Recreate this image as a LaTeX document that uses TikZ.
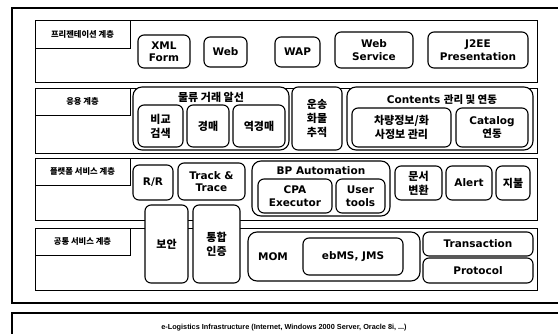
\documentclass[tikz,border=0pt]{standalone}
\usepackage{fontspec}
\setmainfont{DejaVu Sans}
\newfontfamily\kr{Noto Sans CJK KR}
\newfontfamily\lat{Liberation Sans}
\newcommand{\mybox}[8][]{\node[#2,minimum width={(#5-#3)*1pt},minimum height={(#6-#4)*1pt},#1] (#7) at ({(#3+#5)/2},{(#4+#6)/2}) {#8};}
\begin{document}
\begin{tikzpicture}[x=1pt,y=-1pt,
  frame/.style={draw,line width=1.2pt,inner sep=0pt},
  layer/.style={draw,line width=0.9pt,inner sep=0pt},
  lab/.style={draw,line width=0.8pt,inner sep=0pt,font=\kr\bfseries\fontsize{8.3}{10}\selectfont},
  rb/.style={draw,line width=1.1pt,rounded corners=6pt,fill=white,inner sep=0pt,align=center,font=\bfseries\fontsize{10.5}{12.5}\selectfont},
  big/.style={rb,rounded corners=9pt},
  rk/.style={rb,font=\kr\bfseries\fontsize{11}{14}\selectfont},
  ttl/.style={inner sep=0pt,font=\bfseries\fontsize{10.5}{12}\selectfont},
  ktl/.style={inner sep=0pt,font=\kr\bfseries\fontsize{11}{13}\selectfont}]
\useasboundingbox (0,0) rectangle (558,333);
\begin{scope}
\clip (0,0) rectangle (558,333);
\mybox{frame}{12}{8}{580}{303}{outer}{}
\mybox{frame}{12}{313}{580}{352}{infra}{}
\node[inner sep=0pt,font=\lat\bfseries\fontsize{7.3}{9}\selectfont] (infrat) at (284,328) {e-Logistics Infrastructure (Internet, Windows 2000 Server, Oracle 8i, ...)};
% layers
\mybox{layer}{35}{20}{537}{82}{L1}{}
\mybox{layer}{35}{88}{537}{153}{L2}{}
\mybox{layer}{35}{158}{537}{220}{L3}{}
\mybox{layer}{35}{228}{537}{290}{L4}{}
\mybox{lab}{35}{20}{130}{48}{T1}{프리젠테이션 계층}
\mybox{lab}{35}{88}{130}{115}{T2}{응용 계층}
\mybox{lab}{35}{158}{130}{185}{T3}{플랫폼 서비스 계층}
\mybox{lab}{35}{228}{130}{255}{T4}{공통 서비스 계층}
% presentation layer
\mybox{rb}{138}{35}{190}{68}{xml}{XML\\Form}
\mybox{rb}{204}{37}{247}{67}{web}{Web}
\mybox{rb}{275}{37}{320}{67}{wap}{WAP}
\mybox{rb}{335}{32}{413}{68}{ws}{Web\\Service}
\mybox{rb}{428}{32}{528}{68}{j2ee}{J2EE\\Presentation}
% application layer
\mybox{big}{133}{87}{289}{150}{broker}{}
\node[ktl] (brokert) at (211,97) {물류 거래 알선};
\mybox{rk}{138}{105}{183}{147}{cmp}{비교\\검색}
\mybox{rk}{187}{105}{229}{147}{auc}{경매}
\mybox{rk}{233}{105}{285}{147}{rauc}{역경매}
\mybox{rk}{292}{87}{342}{150}{cargo}{운송\\화물\\추적}
\mybox{big}{347}{87}{533}{150}{cont}{}
\node[ttl] (contt) at (442,100) {Contents {\kr 관리 및 연동}};
\mybox{rk}{352}{108}{451}{147}{veh}{차량정보/화\\사정보 관리}
\mybox{rb}{456}{108}{528}{147}{cat}{Catalog\\{\kr 연동}}
% platform service layer
\mybox{rb}{133}{165}{173}{200}{rr}{R/R}
\mybox{rb}{178}{163}{245}{200}{tt}{Track \&\\Trace}
\mybox{big}{252}{161}{390}{216}{bp}{}
\node[ttl] (bpt) at (321,171) {BP Automation};
\mybox{rb}{258}{179}{332}{213}{cpa}{CPA\\Executor}
\mybox{rb}{336}{179}{385}{213}{ut}{User\\tools}
\mybox{rk}{395}{166}{442}{200}{doc}{문서\\변환}
\mybox{rb}{446}{166}{492}{200}{alert}{Alert}
\mybox{rk}{496}{166}{530}{200}{pay}{지불}
% common service layer
\mybox{rk}{145}{205}{188}{283}{sec}{보안}
\mybox{rk}{193}{205}{240}{283}{auth}{통합\\인증}
\mybox{big}{248}{232}{420}{281}{mom}{}
\node[ttl] (momt) at (273,257) {MOM};
\mybox{rb}{303}{238}{403}{275}{ebms}{ebMS, JMS}
\mybox{rb}{423}{232}{533}{256}{trans}{Transaction}
\mybox{rb}{423}{258}{533}{283}{proto}{Protocol}
\end{scope}
\end{tikzpicture}
\end{document}
